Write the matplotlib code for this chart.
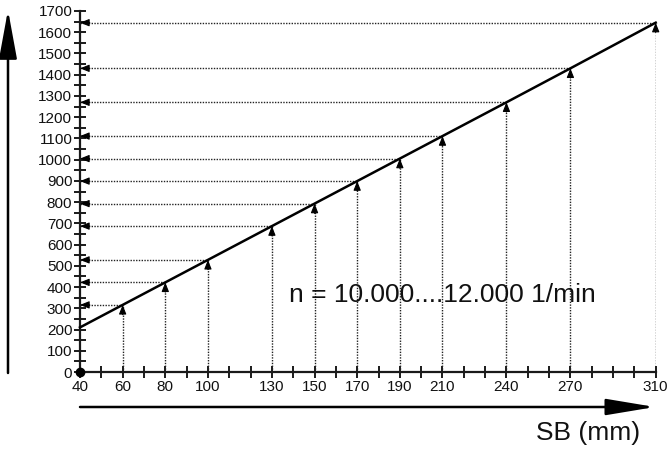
import matplotlib.pyplot as plt

plt.rcParams['font.family'] = ['Liberation Sans', 'DejaVu Sans']

# SB (mm) against value
sb = [40, 60, 80, 100, 130, 150, 170, 190, 210, 240, 270, 310]
val = [210, 316, 422, 528, 687, 793, 899, 1005, 1111, 1270, 1430, 1645]
xlabels = [40, 60, 80, 100, 130, 150, 170, 190, 210, 240, 270, 310]
ylabels = list(range(0, 1701, 100))
note = "n = 10.000....12.000 1/min"
xname = "SB (mm)"


def main():
    fig = plt.figure(figsize=(6.69, 4.53), dpi=100)
    ax = fig.add_axes([80 / 669, 81 / 453, 575.7 / 669, 361 / 453])
    ax.set_xlim(40, 310)
    ax.set_ylim(0, 1700)

    for s in ['top', 'right']:
        ax.spines[s].set_visible(False)
    for s in ['left', 'bottom']:
        ax.spines[s].set_linewidth(1.6)
        ax.spines[s].set_color('#1a1a1a')

    ax.set_xticks(xlabels)
    ax.set_xticks(range(40, 311, 10), minor=True)
    ax.set_yticks(ylabels)
    ax.set_yticks(range(0, 1701, 50), minor=True)
    ax.tick_params(axis='both', which='both', direction='inout', width=1.4,
                   color='#1a1a1a', labelsize=11, labelcolor='#111111')
    ax.tick_params(axis='both', which='major', length=9, pad=1)
    ax.tick_params(axis='both', which='minor', length=8)

    # main line
    ax.plot(sb, val, color='black', lw=1.8, zorder=3, clip_on=False)

    # dotted guide lines with small arrowheads
    head = '-|>,head_length=0.55,head_width=0.22'
    for x, y in zip(sb[1:], val[1:]):
        ax.plot([x, x], [0, y], ls=(0, (1, 1)), color='#222222', lw=1.0)
        ax.plot([40, x], [y, y], ls=(0, (1, 1)), color='#222222', lw=1.0)
        ax.annotate('', xy=(x, y), xytext=(0, -7), textcoords='offset points',
                    arrowprops=dict(arrowstyle=head, color='black', lw=0.8,
                                    shrinkA=0, shrinkB=0))
        ax.annotate('', xy=(40, y), xytext=(7, 0), textcoords='offset points',
                    arrowprops=dict(arrowstyle=head, color='black', lw=0.8,
                                    shrinkA=0, shrinkB=0),
                    annotation_clip=False)

    ax.plot([40], [0], 'o', color='black', ms=6, clip_on=False, zorder=4)

    ax.text(138, 362, note, fontsize=19, va='center', ha='left', color='#111111')

    # big axis arrows
    ax.annotate('', xy=(8, 443), xytext=(8, 80), xycoords='figure pixels',
                textcoords='figure pixels',
                arrowprops=dict(arrowstyle='-|>,head_length=3.0,head_width=0.55',
                                color='black', lw=1.8, shrinkA=0, shrinkB=0))
    ax.annotate('', xy=(655, 46), xytext=(80, 46), xycoords='figure pixels',
                textcoords='figure pixels',
                arrowprops=dict(arrowstyle='-|>,head_length=3.0,head_width=0.5',
                                color='black', lw=1.8, shrinkA=0, shrinkB=0))
    fig.text(640 / 669, 20 / 453, xname, fontsize=19, ha='right', va='center',
             color='#111111')

    fig.savefig('out.png', dpi=100)


if __name__ == '__main__':
    main()
